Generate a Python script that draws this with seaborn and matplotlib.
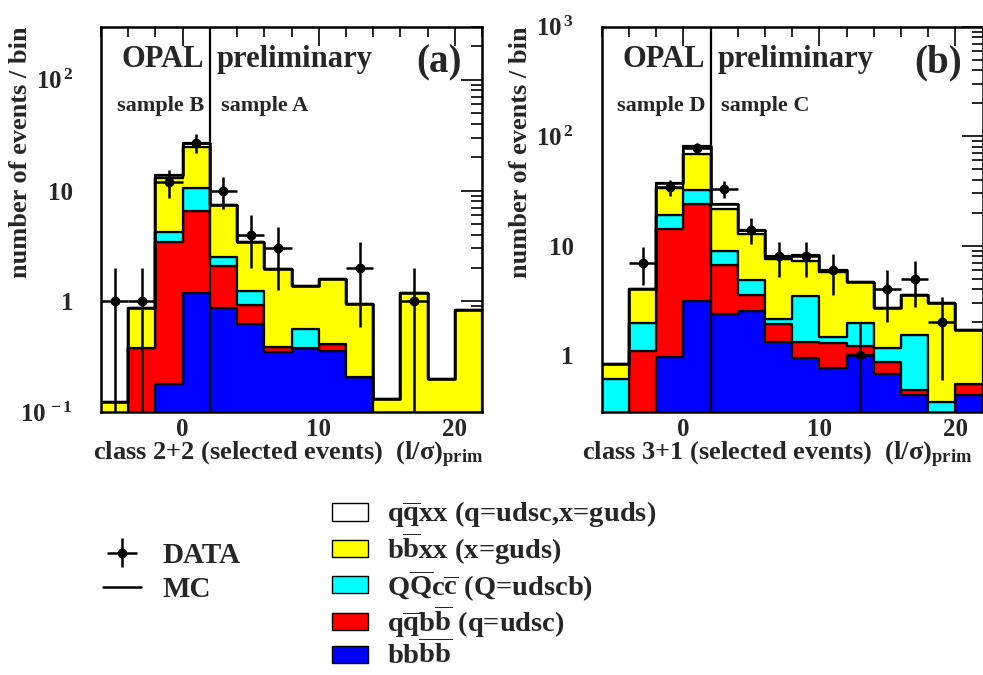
import numpy as np
import pandas as pd
import matplotlib
matplotlib.use("Agg")
import matplotlib.pyplot as plt
import matplotlib.ticker as mticker
from matplotlib.patches import Patch
from matplotlib.lines import Line2D
import seaborn as sns

# ---------------------------------------------------------------- data
bin_edges = [-6, -4, -2, 0, 2, 4, 6, 8, 10, 12, 14, 16, 18, 20, 22]
bin_centers = [-5, -3, -1, 1, 3, 5, 7, 9, 11, 13, 15, 17, 19, 21]

processes = ["qqxx", "bbxx", "QQcc", "qqbb", "bbbb"]
proc_colors = ["#ffffff", "#ffff00", "#00ffff", "#ff0000", "#0000ff"]
proc_labels = [
    r"q$\mathbf{\overline{q}}$xx (q=udsc,x=guds)",
    r"b$\mathbf{\overline{b}}$xx (x=guds)",
    r"Q$\mathbf{\overline{Q}}$c$\mathbf{\overline{c}}$ (Q=udscb)",
    r"q$\mathbf{\overline{q}}$b$\mathbf{\overline{b}}$ (q=udsc)",
    r"bb$\mathbf{\overline{b}\overline{b}}$",
]

# class 2+2, expected events per bin for each process
a_qqxx = [0, 0, 0.6, 2.2, 0.05, 0, 0, 0, 0, 0, 0, 0, 0, 0]
a_bbxx = [0.125, 0.485, 8.86, 14.1, 4.9, 2.22, 1.59, 0.82, 1.19, 0.74, 0.132, 1.2, 0.2, 0.835]
a_QQcc = [0, 0, 0.79, 4.04, 0.39, 0.31, 0, 0.18, 0, 0, 0, 0, 0, 0]
a_qqbb = [0, 0.38, 3.27, 5.36, 1.23, 0.30, 0.04, 0, 0.05, 0, 0, 0, 0, 0]
a_bbbb = [0, 0, 0.18, 1.2, 0.87, 0.62, 0.35, 0.38, 0.36, 0.21, 0, 0, 0, 0]
a_data = [1, 1, 12, 27, 10, 4, 3, 0, 0, 2, 0, 1, 0, 0]

# class 3+1, expected events per bin for each process
b_qqxx = [0, 0, 3.7, 13.0, 2.1, 1.0, 0.55, 0.93, 0.29, 0, 0, 0, 0, 0]
b_bbxx = [0.22, 2.07, 14.6, 36.1, 12.8, 8.0, 5.45, 3.82, 4.26, 2.64, 1.52, 2.05, 2.63, 1.17]
b_QQcc = [0.61, 0.9, 5.1, 8.4, 2.41, 1.31, 0.18, 2.13, 0.19, 0.76, 0.28, 1.04, 0.37, 0]
b_qqbb = [0, 1.08, 13.1, 21.0, 4.24, 1.05, 0.62, 0.38, 0.52, 0.22, 0.2, 0.05, 0, 0.11]
b_bbbb = [0, 0, 0.97, 3.15, 2.35, 2.52, 1.32, 0.94, 0.76, 1.0, 0.67, 0.43, 0, 0.43]
b_data = [0, 7, 34, 78, 33, 14, 8, 8, 6, 1, 4, 5, 2, 0]

# ---------------------------------------------------------------- style
sns.set_style("white")
plt.rcParams["font.family"] = ["Liberation Serif", "DejaVu Serif"]
plt.rcParams["font.weight"] = "bold"
plt.rcParams["mathtext.fontset"] = "custom"
plt.rcParams["mathtext.rm"] = "Liberation Serif:bold"
plt.rcParams["mathtext.bf"] = "Liberation Serif:bold"
plt.rcParams["mathtext.it"] = "Liberation Serif:bold:italic"
plt.rcParams["mathtext.default"] = "bf"
plt.rcParams["axes.linewidth"] = 1.6

W, H = 983, 675
fig = plt.figure(figsize=(W / 100, H / 100), dpi=100)
fig.patch.set_facecolor("white")


def frac(x0, y0, x1, y1):
    return [x0 / W, 1 - y1 / H, (x1 - x0) / W, (y1 - y0) / H]


def make_frame(comps):
    rows = []
    for proc, vals in zip(processes, comps):
        for c, v in zip(bin_centers, vals):
            rows.append({"x": c, "w": v, "proc": proc})
    return pd.DataFrame(rows)


def log_label(v, pos):
    e = int(round(np.log10(v)))
    if e == 0:
        return "1"
    if e == 1:
        return "10"
    return r"$\mathbf{10^{\,%d}}$" % e


def draw_panel(ax, comps, data, ylim, tag, left_sample, right_sample,
               xlabel, xlabel_x):
    ax.set_yscale("log")
    df = make_frame(comps)
    sns.histplot(
        data=df, x="x", weights="w", hue="proc", hue_order=processes,
        multiple="stack", bins=bin_edges, element="step", fill=True,
        palette=dict(zip(processes, proc_colors)), alpha=1,
        edgecolor="black", linewidth=1.6, legend=False, ax=ax,
    )
    # total expectation outline
    total = pd.DataFrame({"x": bin_centers, "w": np.sum(comps, axis=0)})
    sns.histplot(
        data=total, x="x", weights="w", bins=bin_edges, element="step",
        fill=False, color="black", linewidth=1.8, ax=ax,
    )
    # selected events with Poisson errors
    d = pd.DataFrame({"x": bin_centers, "n": data})
    d = d[d["n"] > 0]
    err = np.sqrt(d["n"].to_numpy(dtype=float))
    eb = ax.errorbar(
        d["x"], d["n"], yerr=err, xerr=1, fmt="o", color="black",
        ms=6, elinewidth=1.8, capsize=0, zorder=5,
    )
    ax.axvline(2, color="black", lw=1.6, zorder=4)

    ax.set_xlim(-6, 22)
    ax.set_ylim(*ylim)
    ax.xaxis.set_major_locator(mticker.MultipleLocator(10))
    ax.xaxis.set_minor_locator(mticker.MultipleLocator(2))
    ax.yaxis.set_major_locator(mticker.LogLocator(base=10))
    ax.yaxis.set_minor_locator(mticker.LogLocator(base=10, subs=np.arange(2, 10)))
    ax.yaxis.set_major_formatter(mticker.FuncFormatter(log_label))
    ax.yaxis.set_minor_formatter(mticker.NullFormatter())
    ax.tick_params(which="both", direction="in", top=True, right=True,
                   width=1.4, labelsize=18)
    ax.tick_params(axis="x", which="major", length=14, pad=4)
    ax.tick_params(axis="x", which="minor", length=7)
    ax.tick_params(axis="y", which="major", length=15, pad=20)
    ax.tick_params(axis="y", which="minor", length=8)
    for s in ax.spines.values():
        s.set_color("black")
        s.set_linewidth(1.8)

    ax.set_xlabel(xlabel, fontsize=19, fontweight="bold", labelpad=-1,
                  x=xlabel_x)
    ax.set_ylabel("number of events / bin", fontsize=19, fontweight="bold",
                  loc="top")
    ax.yaxis.set_label_coords(-0.182, 1.0)

    tr = ax.get_xaxis_transform()
    ax.text(-4.5, 0.915, "OPAL", transform=tr, fontsize=22, ha="left",
            va="center", zorder=6)
    ax.text(2.5, 0.915, "preliminary", transform=tr, fontsize=22, ha="left",
            va="center", zorder=6)
    ax.text(20.5, 0.905, tag, transform=tr, fontsize=28, ha="right",
            va="center", zorder=6)
    ax.text(1.6, 0.795, left_sample, transform=tr, fontsize=16, ha="right",
            va="center", zorder=6)
    ax.text(2.8, 0.795, right_sample, transform=tr, fontsize=16, ha="left",
            va="center", zorder=6)
    return eb


ax_a = fig.add_axes(frac(101, 26.7, 482, 412.3))
ax_b = fig.add_axes(frac(601.7, 26.7, 982.7, 412.3))

xl_a = r"class 2+2 (selected events)  $\mathbf{(l/σ)_{prim}}$"
xl_b = r"class 3+1 (selected events)  $\mathbf{(l/σ)_{prim}}$"
eb = draw_panel(ax_a, [a_qqxx, a_bbxx, a_QQcc, a_qqbb, a_bbbb], a_data,
                (0.1, 300), "(a)", "sample B", "sample A", xl_a, 0.49)
draw_panel(ax_b, [b_qqxx, b_bbxx, b_QQcc, b_qqbb, b_bbbb], b_data,
           (0.3, 1000), "(b)", "sample D", "sample C", xl_b, 0.46)

# ---------------------------------------------------------------- legends
mc_line = Line2D([], [], color="black", lw=1.8)
leg1 = fig.legend(
    [eb, mc_line], ["DATA", "MC"], loc="upper left",
    bbox_to_anchor=(103 / W, 1 - 542 / H), frameon=False,
    prop={"family": "Liberation Serif", "weight": "bold", "size": 21},
    handlelength=1.3, handletextpad=0.75, labelspacing=0.25, borderpad=0,
    borderaxespad=0,
)

patches = [Patch(facecolor=c, edgecolor="black", lw=1.0) for c in proc_colors]
leg2 = fig.legend(
    patches, proc_labels, loc="upper left",
    bbox_to_anchor=(332 / W, 1 - 500 / H), frameon=False,
    prop={"family": "Liberation Serif", "weight": "bold", "size": 20.5},
    handlelength=1.25, handleheight=0.55, handletextpad=0.68,
    labelspacing=0.03, borderpad=0, borderaxespad=0,
)

fig.savefig("out.png", dpi=100, facecolor="white")
